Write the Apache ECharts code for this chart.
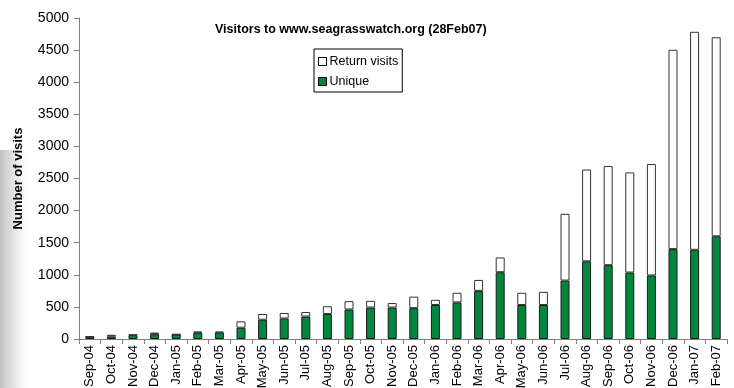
<!DOCTYPE html>
<html>
<head>
<meta charset="utf-8">
<script src="https://cdn.jsdelivr.net/npm/echarts@6/dist/echarts.min.js"></script>
<style>html,body{margin:0;padding:0;background:#fff}#c{width:734px;height:388px}</style>
</head>
<body>
<div id="c"></div>
<script>
const categories = ["Sep-04","Oct-04","Nov-04","Dec-04","Jan-05","Feb-05","Mar-05","Apr-05","May-05","Jun-05","Jul-05","Aug-05","Sep-05","Oct-05","Nov-05","Dec-05","Jan-06","Feb-06","Mar-06","Apr-06","May-06","Jun-06","Jul-06","Aug-06","Sep-06","Oct-06","Nov-06","Dec-06","Jan-07","Feb-07"];
const uniqueVisits = [35,40,60,75,70,100,100,175,300,320,350,390,460,490,490,480,530,570,750,1040,530,530,910,1210,1150,1035,990,1400,1390,1600];
const totalVisits = [42,65,70,100,75,115,115,275,390,405,420,510,590,595,560,660,610,720,920,1270,720,735,1950,2640,2695,2595,2725,4505,4785,4700];
const returnVisits = totalVisits.map((t, i) => t - uniqueVisits[i]);
const yTicks = [0,500,1000,1500,2000,2500,3000,3500,4000,4500,5000];

const chart = echarts.init(document.getElementById('c'));
chart.setOption({
  animation: false,
  backgroundColor: '#fff',
  textStyle: { fontFamily: 'Liberation Sans, Arial, sans-serif' },
  graphic: [{
    type: 'rect', z: -10, silent: true,
    shape: { x: 0, y: 150, width: 32, height: 238 },
    style: { fill: new echarts.graphic.LinearGradient(0, 0, 1, 0, [
      { offset: 0, color: 'rgba(140,140,140,0.55)' },
      { offset: 0.5, color: 'rgba(190,190,190,0.35)' },
      { offset: 1, color: 'rgba(255,255,255,0)' }
    ]) }
  }],
  title: {
    text: 'Visitors to www.seagrasswatch.org (28Feb07)',
    left: 210, top: 18,
    textStyle: { fontSize: 12.5, fontWeight: 'bold', color: '#000', fontFamily: 'Liberation Sans, Arial, sans-serif' }
  },
  legend: {
    orient: 'vertical',
    left: 314, top: 49,
    padding: [6, 4, 4, 4],
    itemGap: 7,
    itemWidth: 8, itemHeight: 8,
    borderColor: '#000', borderWidth: 1,
    backgroundColor: '#fff',
    textStyle: { fontSize: 12.5, color: '#000', padding: [0, 0, 0, -2] },
    data: [
      { name: 'Return visits', icon: 'rect', itemStyle: { color: '#fff', borderColor: '#000', borderWidth: 1 } },
      { name: 'Unique', icon: 'rect', itemStyle: { color: '#00873D', borderColor: '#000', borderWidth: 1 } }
    ]
  },
  grid: { left: 79, right: 7, top: 18, bottom: 49, containLabel: false, outerBoundsMode: 'none' },
  xAxis: {
    type: 'category',
    data: categories,
    boundaryGap: true,
    axisLine: { lineStyle: { color: '#808080', width: 1 } },
    axisTick: { show: true, alignWithLabel: false, interval: 0, length: 5, lineStyle: { color: '#808080' } },
    axisLabel: { rotate: 90, interval: 0, fontSize: 13, color: '#000', margin: 6 }
  },
  yAxis: {
    type: 'value',
    min: yTicks[0], max: yTicks[yTicks.length - 1], interval: 500,
    name: 'Number of visits',
    nameLocation: 'middle',
    nameGap: 54,
    nameRotate: 90,
    nameTextStyle: { fontSize: 13, fontWeight: 'bold', color: '#000' },
    splitLine: { show: false },
    axisLine: { show: true, lineStyle: { color: '#808080', width: 1 } },
    axisTick: { show: true, length: 5, lineStyle: { color: '#808080' } },
    axisLabel: { fontSize: 14, color: '#000', margin: 10, formatter: v => String(v) }
  },
  series: [
    {
      name: 'Unique', type: 'bar', stack: 'v', data: uniqueVisits,
      barWidth: 9,
      itemStyle: { color: '#00873D', borderColor: '#1a1a1a', borderWidth: 1 }
    },
    {
      name: 'Return visits', type: 'bar', stack: 'v', data: returnVisits,
      barWidth: 9,
      itemStyle: { color: '#fff', borderColor: '#333', borderWidth: 1 }
    }
  ]
});
</script>
</body>
</html>
